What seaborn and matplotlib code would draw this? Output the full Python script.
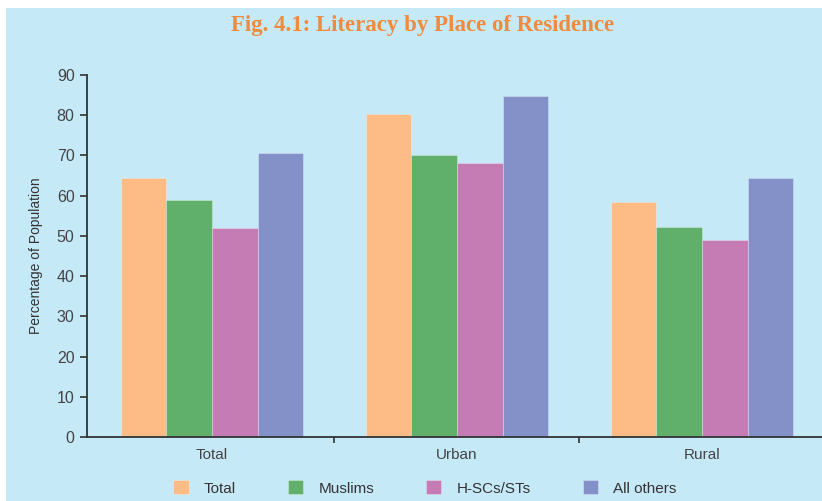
import pandas as pd
import matplotlib.pyplot as plt
import seaborn as sns
from matplotlib.patches import Rectangle

# data
places = ["Total", "Urban", "Rural"]
groups = ["Total", "Muslims", "H-SCs/STs", "All others"]
total_vals = [64.3, 80.2, 58.4]
muslim_vals = [58.9, 70.1, 52.2]
hscst_vals = [51.9, 68.2, 48.9]
others_vals = [70.7, 84.7, 64.3]
yticks = list(range(0, 100, 10))

colors = ["#FDBC85", "#60B06C", "#C57BB3", "#8391C8"]
bg = "#C6E9F8"

rows = []
for g, vals in zip(groups, [total_vals, muslim_vals, hscst_vals, others_vals]):
    for p, v in zip(places, vals):
        rows.append({"place": p, "group": g, "value": v})
df = pd.DataFrame(rows)

sns.set_style("white")
plt.rcParams["font.family"] = ["Liberation Sans", "DejaVu Sans"]

fig = plt.figure(figsize=(8.22, 5.01), dpi=100, facecolor="white")
fig.patches.append(Rectangle((6 / 822, 0), 1, 1 - 8 / 501, transform=fig.transFigure,
                             facecolor=bg, edgecolor="none", zorder=-10))

ax = fig.add_axes([87 / 822, 64 / 501, 1 - 87 / 822, 362 / 501])
ax.set_facecolor(bg)

sns.barplot(data=df, x="place", y="value", hue="group", order=places, hue_order=groups,
            palette=colors, width=0.745, gap=0, linewidth=0.6, edgecolor=(1, 1, 1, 0.35),
            ax=ax, saturation=1)

ax.set_xlim(-0.51, 2.49)
ax.set_ylim(0, 90)
ax.set_yticks(yticks)
ax.set_xlabel("")
ax.set_ylabel("Percentage of Population", fontsize=10, color="#333333", labelpad=10)
ax.set_xticks([0.5, 1.5], minor=True)
ax.tick_params(axis="x", which="major", bottom=False, length=0, labelsize=11,
               labelcolor="#444444", pad=8)
ax.tick_params(axis="x", which="minor", bottom=True, length=4, width=1.2,
               color="#333333", direction="out")
ax.tick_params(axis="y", left=True, length=5, width=1.2, color="#333333", direction="out",
               labelsize=11.5, labelcolor="#444444", pad=4)
for s in ["top", "right"]:
    ax.spines[s].set_visible(False)
for s in ["left", "bottom"]:
    ax.spines[s].set_color("#333333")
    ax.spines[s].set_linewidth(1.3)

handles, labels = ax.get_legend_handles_labels()
ax.get_legend().remove()
fig.legend(handles, labels, loc="center", bbox_to_anchor=(425 / 822, 1 - 488 / 501), ncol=4,
           frameon=False, fontsize=11, handlelength=1.0, handleheight=1.0,
           handletextpad=1.0, columnspacing=3.4, labelcolor="#333333")

fig.text(423 / 822, 1 - 25 / 501, "Fig. 4.1: Literacy by Place of Residence",
         ha="center", va="center", fontsize=16.5, fontweight="bold", color="#F08A3C",
         family=["Liberation Serif", "DejaVu Serif"])

fig.savefig("out.png", dpi=100, facecolor="white")
